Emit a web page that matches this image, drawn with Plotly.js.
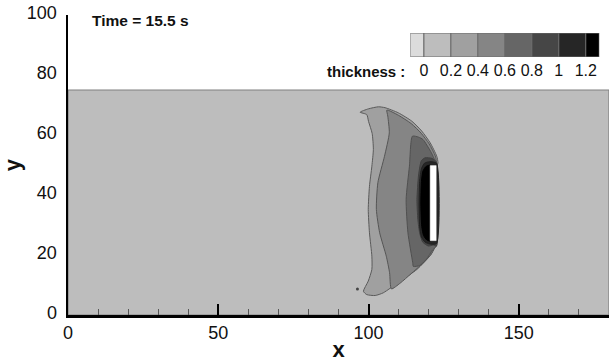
<!DOCTYPE html>
<html>
<head>
<meta charset="utf-8">
<script src="https://cdn.plot.ly/plotly-3.0.1.min.js"></script>
<style>html,body{margin:0;padding:0;background:#fff;}#chart{width:610px;height:362px;}</style>
</head>
<body>
<div id="chart"></div>
<script>
// ---- data ----
// colour key
var keyLevels = [0, 0.2, 0.4, 0.6, 0.8, 1, 1.2];
var keyLabels = ["0", "0.2", "0.4", "0.6", "0.8", "1", "1.2"];
var keyColors = ["#dcdcdc", "#bdbdbd", "#a0a0a0", "#858585", "#666666", "#464646", "#262626", "#000000"];

// computational domain (thickness 0 - 0.2)
var domainX = [0, 180, 180, 0, 0];
var domainY = [0, 0, 75, 75, 0];

// band >= 0.2
var band02X = [97.2, 99.9, 103.3, 105.5, 109.9, 114.4, 117.7, 120.5, 122.7, 123.1, 122.6, 122.6, 121.9, 120.8, 116.1, 110.5, 104.9, 102.2, 99.4, 98.3, 99.9, 101.1, 101.1, 100.3, 99.9, 100.3, 101.1, 101.6, 101.2, 100.0, 99.4, 97.2];
var band02Y = [67.6, 68.7, 69.4, 69.1, 67.4, 64.6, 61.3, 57.4, 52.9, 50.7, 49.0, 25.0, 22.9, 20.2, 15.2, 11.3, 7.4, 6.5, 6.8, 7.9, 11.3, 15.2, 19.6, 27.4, 35.2, 42.9, 49.6, 55.2, 60.5, 64.5, 66.8, 67.6];
// band >= 0.4
var band04X = [106.1, 109.9, 114.2, 117.5, 120.2, 122.2, 122.6, 122.6, 121.0, 118.0, 114.2, 110.5, 107.6, 107.0, 105.9, 103.7, 102.6, 103.1, 105.3, 106.9, 106.4, 106.1];
var band04Y = [68.3, 66.6, 63.8, 60.6, 57.0, 53.0, 51.0, 24.0, 20.5, 17.2, 13.8, 10.6, 8.7, 14.1, 19.6, 27.4, 35.2, 44.1, 52.9, 60.7, 66.3, 68.3];
// band >= 0.6
var band06X = [114.6, 116.6, 118.1, 120.9, 122.0, 122.6, 122.6, 121.4, 119.2, 117.0, 114.9, 114.7, 113.1, 112.5, 113.6, 114.6];
var band06Y = [59.6, 59.3, 58.5, 54.1, 51.8, 51.0, 23.0, 21.8, 18.5, 16.5, 16.2, 17.4, 27.4, 38.5, 49.6, 59.6];
// band >= 0.8
var band08X = [116.6, 117.1, 117.6, 118.8, 121.1, 122.6, 122.6, 121.6, 119.9, 118.0, 117.0, 116.4, 116.1, 116.6];
var band08Y = [46.3, 49.6, 51.5, 52.4, 52.2, 50.8, 23.0, 23.3, 23.0, 24.3, 27.4, 31.8, 38.5, 46.3];
// band >= 1.0
var band10X = [117.0, 117.6, 118.6, 120.3, 122.6, 122.6, 120.3, 118.8, 117.6, 117.0, 116.8, 117.0];
var band10Y = [44.5, 48.8, 50.6, 51.1, 50.6, 23.8, 23.7, 24.3, 26.0, 29.6, 37.0, 44.5];
// band >= 1.2
var band12X = [117.6, 118.1, 119.1, 120.6, 120.6, 119.4, 118.3, 117.7, 117.4, 117.6];
var band12Y = [44.5, 48.0, 49.5, 49.9, 24.7, 25.0, 26.5, 29.5, 37.0, 44.5];

// obstacle (white block)
var blockX = [120.5, 122.5, 122.5, 120.5, 120.5];
var blockY = [24.8, 24.8, 49.8, 49.8, 24.8];

// isolated speck
var speckX = [96.3];
var speckY = [8.7];

var timeText = "Time = 15.5 s";

// ---- traces ----
function band(x, y, fill, line) {
  return {type: 'scatter', mode: 'lines', x: x, y: y, fill: 'toself', fillcolor: fill,
          line: {color: line, width: 1, shape: 'spline', smoothing: 0.6}, hoverinfo: 'skip', showlegend: false,
          xaxis: 'x', yaxis: 'y'};
}
var domainTrace = band(domainX, domainY, keyColors[1], '#808080');
domainTrace.line = {color: '#808080', width: 1.2};
var traces = [
  domainTrace,
  band(band02X, band02Y, keyColors[2], '#5a5a5a'),
  band(band04X, band04Y, keyColors[3], '#555555'),
  band(band06X, band06Y, keyColors[4], '#505050'),
  band(band08X, band08Y, keyColors[5], '#404040'),
  band(band10X, band10Y, keyColors[6], '#202020'),
  band(band12X, band12Y, keyColors[7], '#000000'),
  {type: 'scatter', mode: 'lines', x: blockX, y: blockY, fill: 'toself', fillcolor: '#ffffff',
   line: {color: '#ffffff', width: 0.5}, hoverinfo: 'skip', showlegend: false},
  {type: 'scatter', mode: 'markers', x: speckX, y: speckY, marker: {size: 3, color: '#444'},
   hoverinfo: 'skip', showlegend: false}
];

// colour key as bars on a small second subplot
var keyX = [], keyW = [];
var step = keyLevels[1] - keyLevels[0];
for (var i = 0; i < keyColors.length; i++) {
  var lo = i === 0 ? keyLevels[0] - step / 2 : keyLevels[i - 1];
  var hi = i === keyColors.length - 1 ? keyLevels[keyLevels.length - 1] + step / 2 : keyLevels[i];
  keyX.push((lo + hi) / 2);
  keyW.push(hi - lo);
}
traces.push({type: 'bar', x: keyX, y: keyColors.map(function(){return 1;}), width: keyW, base: 0,
  marker: {color: keyColors, line: {color: '#6a6a6a', width: 1}},
  xaxis: 'x2', yaxis: 'y2', hoverinfo: 'skip', showlegend: false});

var font = "'Liberation Sans', Arial, sans-serif";
var layout = {
  width: 610, height: 362,
  margin: {l: 68, r: 1, t: 15, b: 47},
  paper_bgcolor: '#ffffff', plot_bgcolor: '#ffffff',
  font: {family: font, color: '#111'},
  showlegend: false,
  xaxis: {range: [0, 180], domain: [0, 1], showgrid: false, zeroline: false,
    showline: true, linecolor: '#000', linewidth: 2.5,
    ticks: 'inside', ticklen: 11, tickwidth: 2, tickcolor: '#000', dtick: 50, tick0: 0,
    minor: {dtick: 10, ticks: 'inside', ticklen: 6, tickwidth: 1, tickcolor: '#555', showgrid: false},
    tickfont: {size: 18, color: '#111'}, ticklabelstandoff: 0,
    title: {text: '<b>x</b>', font: {size: 22, color: '#111'}, standoff: 7}},
  yaxis: {range: [0, 100], domain: [0, 1], showgrid: false, zeroline: false,
    showline: true, linecolor: '#000', linewidth: 2.5, ticks: '', dtick: 20,
    tickfont: {size: 18, color: '#111'}, ticklabelstandoff: 5, ticklabelshift: -2,
    title: {text: '<b>y</b>', font: {size: 22, color: '#111'}, standoff: 2}},
  xaxis2: {domain: [0.633, 0.982], anchor: 'y2', range: [-0.1, 1.3], showgrid: false, zeroline: false,
    showline: false, ticks: '', tickvals: keyLevels, ticktext: keyLabels,
    tickfont: {size: 16, color: '#111'}, ticklabelstandoff: 2, fixedrange: true},
  yaxis2: {domain: [0.86, 0.94], anchor: 'x2', range: [0, 1], showgrid: false, zeroline: false,
    showline: false, showticklabels: false, ticks: '', fixedrange: true},
  annotations: [
    {text: '<b>' + timeText + '</b>', xref: 'paper', yref: 'paper', x: 0.04, y: 0.983,
     xanchor: 'left', yanchor: 'middle', showarrow: false, font: {size: 15.5, color: '#111'}},
    {text: '<b>thickness :</b>', xref: 'paper', yref: 'paper', x: 0.627, y: 0.813,
     xanchor: 'right', yanchor: 'middle', showarrow: false, font: {size: 15, color: '#111'}}
  ]
};

Plotly.newPlot('chart', traces, layout, {staticPlot: true, displayModeBar: false});
</script>
</body>
</html>
